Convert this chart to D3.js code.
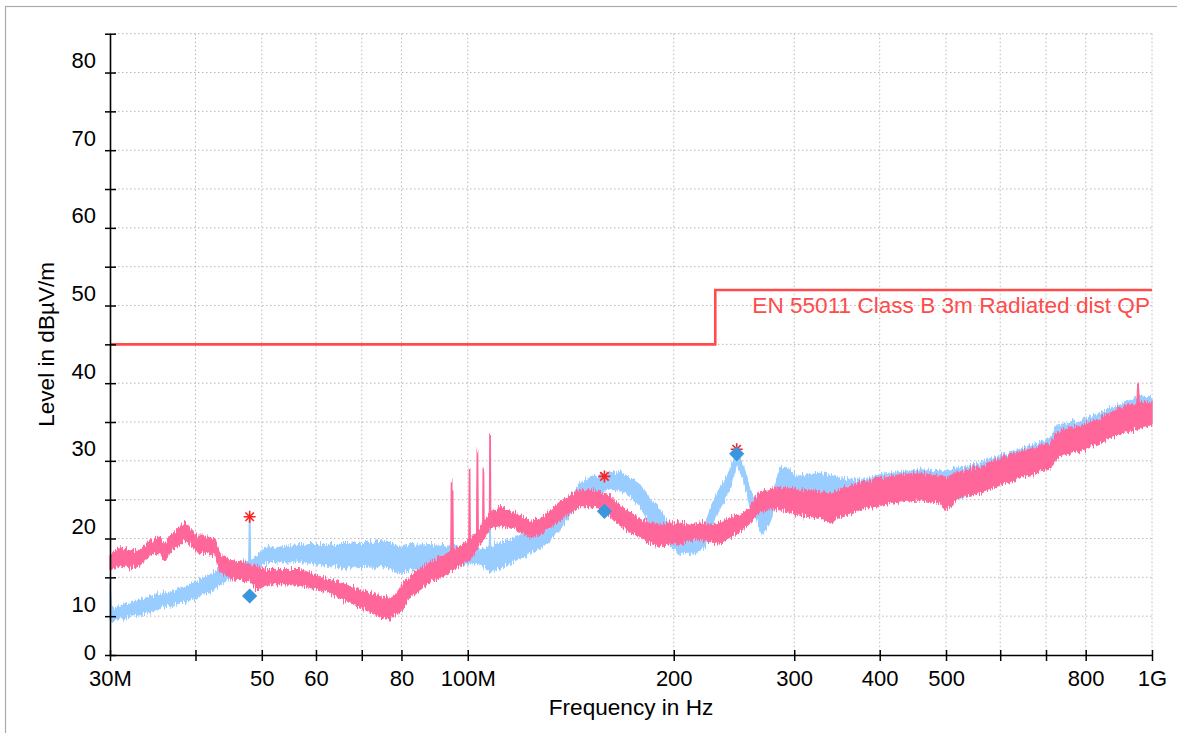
<!DOCTYPE html>
<html>
<head>
<meta charset="utf-8">
<script src="https://cdn.jsdelivr.net/npm/d3@7"></script>
<style>
  html, body { margin: 0; padding: 0; background: #fff; }
  svg { display: block; font-family: "Liberation Sans", Arial, Helvetica, sans-serif; }
</style>
</head>
<body>
<svg id="chart" width="1177" height="733"></svg>
<script>
// ---- Axis ticks (frequency in MHz, level in dBµV/m) ----
const freqTicks = [30, 40, 50, 60, 70, 80, 100, 200, 300, 400, 500, 600, 700, 800, 1000];
const freqTickLabels = ["30M", "", "50", "60", "", "80", "100M", "200", "300", "400", "500", "", "", "800", "1G"];
const levelTicks = [0, 5, 10, 15, 20, 25, 30, 35, 40, 45, 50, 55, 60, 65, 70, 75, 80];
const levelLabels = [0, 10, 20, 30, 40, 50, 60, 70, 80];

// ---- Limit line ----
const limitName = "EN 55011 Class B 3m Radiated dist QP";
const limitFreq = [30, 230, 230, 1000];
const limitLevel = [40, 40, 47, 47];

// ---- Scan 1 (light blue): frequency, envelope min / max ----
const scan1Freq = [30.0, 30.15, 31.03, 32.09, 33.19, 34.32, 35.50, 36.71, 37.97, 39.27, 40.61, 42.01, 43.45, 44.93,
  46.47, 47.85, 47.95, 48.05, 48.15, 48.87, 50.54, 53.16, 56.86, 67.28, 75.17, 79.59, 88.05, 94.18, 100.74, 104.19,
  107.5, 107.7, 107.85, 108.0, 111.45, 115.26, 119.21, 123.29, 127.51, 131.87, 136.39, 141.06, 145.89, 150.88, 156.05,
  161.39, 166.92, 172.63, 178.54, 184.65, 190.97, 197.51, 204.27, 211.27, 218.50, 222.21, 225.98, 233.72, 241.72,
  247.22, 252.78, 258.54, 264.44, 268.93, 276.55, 286.01, 292.54, 302.55, 327.19, 349.99, 374.36, 400.41, 428.28,
  458.09, 501.16, 560.57, 599.6, 686.0, 709.5, 726.4, 784.9, 898.1, 960.6, 1000];
const scan1Min = [4.3, 4.3, 4.8, 5.0, 5.2, 5.5, 6.1, 6.3, 6.7, 7.1, 7.5, 8.1, 9.0, 9.7,
  10.3, 10.7, 10.7, 10.7, 10.8, 11.0, 11.9, 12.0, 12.0, 11.2, 11.4, 10.5, 11.6, 11.4, 11.8, 11.6,
  11.0, 10.5, 10.5, 11.0, 11.2, 11.8, 12.5, 13.1, 13.7, 14.8, 16.1, 18.0, 19.5, 20.4, 21.0,
  21.3, 21.3, 20.4, 19.1, 16.9, 15.5, 14.0, 13.1, 13.1, 13.5, 13.9, 16.1, 18.9, 21.3,
  24.7, 22.5, 19.3, 17.4, 15.6, 17.0, 21.6, 21.6, 20.7, 20.6, 20.0, 18.9, 19.7, 20.0,
  20.2, 19.6, 21.0, 22.2, 23.8, 24.1, 25.8, 26.4, 29.0, 29.5, 29.7];
const scan1Max = [9.3, 5.8, 6.4, 6.7, 7.1, 7.5, 7.9, 8.1, 8.6, 9.0, 9.7, 10.3, 11.2, 11.5,
  11.9, 12.2, 17.8, 17.8, 12.3, 12.5, 13.8, 13.9, 14.2, 14.2, 14.8, 14.0, 14.2, 14.0, 13.8, 13.5,
  13.9, 16.7, 16.7, 14.0, 14.4, 14.8, 15.5, 15.7, 16.1, 17.0, 18.3, 20.0, 22.1, 22.8, 23.2,
  23.4, 23.6, 22.8, 21.9, 20.0, 18.7, 16.5, 15.7, 15.2, 15.7, 16.4, 18.7, 21.5, 23.7,
  26.5, 24.3, 21.3, 19.5, 18.4, 19.3, 24.2, 24.1, 23.0, 23.4, 22.8, 22.5, 23.2, 23.6,
  23.8, 23.7, 24.7, 25.6, 27.4, 27.9, 29.6, 30.1, 32.3, 33.2, 33.1];

// ---- Scan 2 (pink): frequency, envelope min / max ----
const scan2Freq = [30.0, 31.03, 32.09, 33.19, 34.32, 35.50, 36.10, 36.71, 37.97, 38.62, 39.27, 40.21, 41.30, 42.72,
  43.45, 44.93, 46.47, 48.05, 49.37, 50.54, 53.16, 56.86, 60.83, 65.05, 69.58, 74.42, 76.96, 78.80, 79.59,
  82.32, 85.14, 88.05, 91.07, 94.18, 94.45, 94.6, 94.8, 94.95, 95.1, 95.25, 97.41, 100.35, 100.5, 100.7, 100.85,
  103.0, 103.2, 103.4, 103.6, 104.19, 105.15, 105.3, 105.5, 105.65, 107.55, 107.7, 107.9, 108.05,
  111.45, 115.26, 119.21, 123.29, 127.51, 131.87, 136.39,
  141.06, 145.89, 150.88, 156.05, 161.39, 166.92, 172.63, 178.54, 184.65, 190.97, 197.51, 204.27, 211.27,
  218.50, 225.98, 233.72, 241.72, 250.0, 258.54, 267.4, 276.55, 286.01, 305.92, 327.19, 338.41, 349.99,
  374.36, 400.41, 428.28, 458.09, 489.98, 501.16, 524.08, 560.57, 599.6, 641.35, 686.0, 709.5, 726.4,
  758.9, 784.9, 839.6, 898.1, 950, 953, 955, 958, 960.6, 1000];
const scan2Min = [11.0, 11.5, 11.2, 11.6, 12.8, 13.1, 12.2, 13.3, 14.2, 14.8, 14.4, 13.3, 13.1, 12.9,
  10.7, 9.9, 9.7, 9.4, 8.4, 9.0, 9.1, 9.0, 8.4, 7.3, 6.2, 4.9, 4.5, 5.4, 5.5,
  7.5, 8.4, 9.4, 9.9, 10.7, 10.8, 10.8, 10.8, 10.8, 10.9, 10.9, 11.6, 12.2, 12.2, 12.2, 12.3,
  13.5, 13.6, 13.6, 13.8, 14.4, 14.8, 14.9, 14.9, 15.0, 16.2, 16.3, 16.3, 16.4,
  16.7, 16.4, 15.9, 15.2, 15.5, 16.4, 17.4,
  18.3, 19.1, 19.1, 18.9, 18.0, 16.7, 15.9, 15.2, 14.4, 14.0, 14.4, 14.4, 14.8,
  14.8, 14.6, 14.4, 15.2, 15.9, 17.0, 18.5, 18.7, 18.7, 18.0, 17.6, 17.0, 17.8,
  18.7, 19.3, 19.7, 20.0, 19.5, 18.7, 20.4, 20.8, 21.9, 22.8, 23.6, 23.8, 25.5,
  26.0, 26.2, 27.3, 28.6, 29.0, 29.1, 29.1, 29.1, 29.2, 29.6];
const scan2Max = [12.9, 13.8, 13.4, 13.5, 14.8, 15.2, 14.2, 15.3, 16.5, 17.1, 16.4, 15.3, 15.3, 14.8,
  12.9, 12.2, 12.0, 11.6, 11.5, 11.0, 11.0, 11.0, 10.1, 9.3, 8.4, 7.5, 7.3, 8.0, 8.6,
  10.1, 11.2, 11.9, 12.5, 13.3, 13.3, 22.3, 22.3, 13.4, 21.0, 13.4, 14.0, 14.8, 24.0, 24.0, 14.8,
  15.8, 26.3, 26.3, 16.0, 16.5, 17.0, 23.8, 23.8, 17.2, 18.2, 28.5, 28.5, 18.3,
  19.1, 18.5, 18.0, 17.2, 17.4, 18.5, 19.7,
  20.6, 21.3, 21.3, 21.0, 20.4, 19.1, 18.3, 17.6, 17.0, 16.7, 17.0, 17.0, 16.7,
  17.0, 16.7, 17.0, 17.8, 18.0, 19.1, 21.0, 21.3, 21.6, 21.3, 21.0, 20.9, 21.3,
  22.1, 22.8, 23.2, 23.4, 23.0, 22.9, 23.6, 24.3, 25.3, 26.2, 26.8, 27.3, 28.6,
  29.4, 29.4, 30.5, 31.8, 32.4, 34.8, 34.8, 32.5, 32.6, 32.6];

// ---- Final measurement markers ----
const peakFreq = [48.0, 158.4, 247.2];
const peakLevel = [17.8, 23.0, 26.5];
const qpFreq = [48.0, 158.4, 247.2];
const qpLevel = [7.6, 18.5, 25.9];

// ---- Layout ----
const W = 1177, H = 733;
const plot = { left: 110, right: 1152, top: 33.7, bottom: 655 };
const colors = {
  scan1: "#99ccff",
  scan2: "#ff6699",
  limit: "#ff4b4b",
  peak: "#ff2020",
  qp: "#3a96dd",
  grid: "#b8b8b8",
  frame: "#ababab"
};

const svg = d3.select("#chart");

// Receiver trace texture: vertical-only jitter on the band edges
const defs = svg.append("defs");
const jitter = defs.append("filter").attr("id", "trace-jitter")
  .attr("filterUnits", "userSpaceOnUse")
  .attr("x", 90).attr("y", 20).attr("width", 1090).attr("height", 660)
  .attr("color-interpolation-filters", "sRGB");
jitter.append("feTurbulence").attr("type", "fractalNoise")
  .attr("baseFrequency", "0.9 0.08").attr("numOctaves", 2).attr("seed", 3).attr("result", "noise");
jitter.append("feColorMatrix").attr("in", "noise").attr("type", "matrix")
  .attr("values", "0 0 0 0 0.5  0 1 0 0 0  0 0 1 0 0  0 0 0 0 1").attr("result", "vnoise");
jitter.append("feDisplacementMap").attr("in", "SourceGraphic").attr("in2", "vnoise")
  .attr("scale", 11).attr("xChannelSelector", "R").attr("yChannelSelector", "G");

const x = d3.scaleLog().domain([30, 1000]).range([plot.left, plot.right]);
const y = d3.scaleLinear().domain([0, 80]).range([plot.bottom, plot.top]);

// outer frame
svg.append("rect")
  .attr("x", 5.5).attr("y", 6.5)
  .attr("width", W + 20).attr("height", H + 20)
  .attr("fill", "none").attr("stroke", colors.frame).attr("stroke-width", 1.2);

// dotted grid
const grid = svg.append("g").attr("stroke", colors.grid).attr("stroke-width", 1)
  .attr("stroke-dasharray", "1.5,2.5").attr("fill", "none");
grid.selectAll("line.h").data(levelTicks.filter(v => v > 0)).join("line")
  .attr("x1", plot.left).attr("x2", plot.right)
  .attr("y1", d => y(d)).attr("y2", d => y(d));
grid.selectAll("line.v").data(freqTicks.filter(f => f > 30)).join("line")
  .attr("y1", plot.top).attr("y2", plot.bottom)
  .attr("x1", d => x(d)).attr("x2", d => x(d));

// scan envelopes as filled bands
function bandData(freq, lo, hi) {
  return freq.map((f, i) => ({ f, lo: lo[i], hi: hi[i] }));
}
const band = d3.area().x(d => x(d.f)).y0(d => y(d.lo)).y1(d => y(d.hi));

const traces = svg.append("g").attr("filter", "url(#trace-jitter)");
traces.append("path")
  .datum(bandData(scan1Freq, scan1Min, scan1Max))
  .attr("d", band)
  .attr("fill", colors.scan1).attr("stroke", colors.scan1)
  .attr("stroke-width", 1.2).attr("stroke-linejoin", "round");

traces.append("path")
  .datum(bandData(scan2Freq, scan2Min, scan2Max))
  .attr("d", band)
  .attr("fill", colors.scan2).attr("stroke", colors.scan2)
  .attr("stroke-width", 1.2).attr("stroke-linejoin", "round");

// limit line
const limitPts = limitFreq.map((f, i) => [x(f), y(limitLevel[i])]);
svg.append("path")
  .attr("d", d3.line()(limitPts))
  .attr("fill", "none").attr("stroke", colors.limit).attr("stroke-width", 2.6);

svg.append("text")
  .attr("x", x(limitFreq[limitFreq.length - 1]) - 2)
  .attr("y", y(limitLevel[limitLevel.length - 1]) + 23.5)
  .attr("text-anchor", "end")
  .attr("font-size", 22.6)
  .attr("fill", colors.limit)
  .text(limitName);

// peak markers (asterisks)
const star = (r) => {
  const p = d3.path();
  for (let k = 0; k < 4; k++) {
    const a = k * Math.PI / 4;
    p.moveTo(-r * Math.cos(a), -r * Math.sin(a));
    p.lineTo(r * Math.cos(a), r * Math.sin(a));
  }
  return p.toString();
};
svg.append("g").selectAll("path")
  .data(peakFreq.map((f, i) => ({ f, v: peakLevel[i] })))
  .join("path")
  .attr("transform", d => `translate(${x(d.f)},${y(d.v)})`)
  .attr("d", star(6))
  .attr("stroke", colors.peak).attr("stroke-width", 1.6).attr("fill", "none");

// quasi-peak markers (diamonds)
svg.append("g").selectAll("path")
  .data(qpFreq.map((f, i) => ({ f, v: qpLevel[i] })))
  .join("path")
  .attr("transform", d => `translate(${x(d.f)},${y(d.v)}) rotate(45)`)
  .attr("d", d3.symbol().type(d3.symbolSquare).size(115))
  .attr("fill", colors.qp);

// axes
const labelOf = new Map(freqTicks.map((f, i) => [f, freqTickLabels[i]]));
const xAxis = d3.axisBottom(x).tickValues(freqTicks).tickFormat(f => labelOf.get(f))
  .tickSizeInner(6).tickSizeOuter(0).tickPadding(9);
const gx = svg.append("g").attr("transform", `translate(0,${plot.bottom})`).call(xAxis);
gx.selectAll(".tick line").attr("y1", -5).attr("y2", 6).attr("stroke-width", 1.5);
gx.select(".domain").attr("stroke-width", 1.6);
gx.selectAll(".tick text").attr("font-size", 22).attr("fill", "#000")
  .attr("font-family", '"Liberation Sans", Arial, sans-serif');

const yAxis = d3.axisLeft(y).tickValues(levelTicks)
  .tickFormat(v => levelLabels.includes(v) ? String(v) : "")
  .tickSizeInner(6).tickSizeOuter(0).tickPadding(8);
const gy = svg.append("g").attr("transform", `translate(${plot.left},0)`).call(yAxis);
gy.selectAll(".tick line").attr("x1", -5).attr("x2", 6).attr("stroke-width", 1.5);
gy.select(".domain").attr("stroke-width", 1.6);
// level labels sit in the band below their grid line; zero sits on the axis
gy.selectAll(".tick text").attr("font-size", 22).attr("fill", "#000")
  .attr("font-family", '"Liberation Sans", Arial, sans-serif')
  .attr("y", v => v === 0 ? -2.3 : 26.7);

// axis titles
svg.append("text")
  .attr("x", (plot.left + plot.right) / 2).attr("y", 714.5)
  .attr("text-anchor", "middle").attr("font-size", 22.6).attr("fill", "#000")
  .text("Frequency in Hz");
svg.append("text")
  .attr("transform", `translate(54,${(plot.top + plot.bottom) / 2}) rotate(-90)`)
  .attr("text-anchor", "middle").attr("font-size", 22.6).attr("fill", "#000")
  .text("Level in dBµV/m");
</script>
</body>
</html>
